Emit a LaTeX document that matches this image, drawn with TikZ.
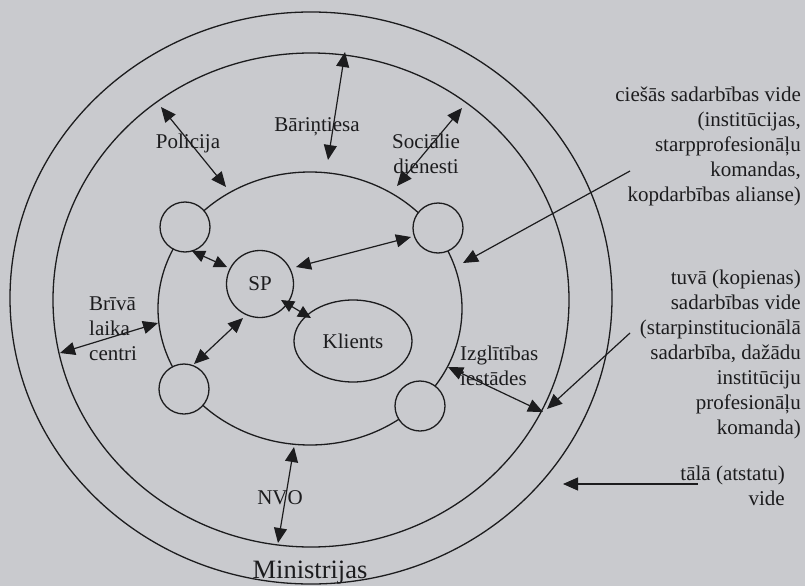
\documentclass[tikz,border=0pt]{standalone}
\usepackage{fontspec}
\setmainfont{Liberation Serif}
\usetikzlibrary{arrows.meta,shapes.geometric}
\definecolor{paper}{RGB}{201,202,206}
\definecolor{ink}{RGB}{28,28,30}

\begin{document}
\begin{tikzpicture}[x=1pt,y=-1pt,
  ring/.style={draw=ink, line width=1.3pt, ellipse, inner sep=0pt, outer sep=0pt},
  hub/.style={draw=ink, line width=1.3pt, circle, fill=paper, minimum size=50pt, inner sep=0pt},
  lbl/.style={text=ink, font=\fontsize{21}{25}\selectfont, inner sep=0pt},
  link/.style={draw=ink, line width=1.2pt, {Triangle[length=15pt,width=13pt]}-{Triangle[length=15pt,width=13pt]}},
  shortlink/.style={draw=ink, line width=1.2pt, {Triangle[length=13pt,width=12pt]}-{Triangle[length=13pt,width=12pt]}},
  ptr/.style={draw=ink, line width=1.2pt, -{Triangle[length=15pt,width=13pt]}},
]
% page
\fill[paper] (0,0) rectangle (805,586);
\useasboundingbox (0,0) rectangle (805,586);

% three environment rings
\node[ring, minimum width=602pt, minimum height=572pt] (outer) at (311,298) {};
\node[ring, minimum width=516pt, minimum height=494pt] (middle) at (311,300) {};
\node[ring, minimum width=304pt, minimum height=273pt] (inner) at (310,308.5) {};

% partner institutions on the inner ring
\node[hub] (tl) at (185,227) {};
\node[hub] (tr) at (438,228) {};
\node[hub] (bl) at (184,389) {};
\node[hub] (br) at (420,406) {};

% social worker and client
\node[draw=ink, line width=1.3pt, circle, minimum size=67pt, inner sep=0pt, lbl] (sp) at (260,284) {SP};
\node[draw=ink, line width=1.3pt, ellipse, minimum width=118pt, minimum height=82pt, inner sep=0pt, lbl] (klients) at (353,341) {Klients};

% labels
\node[lbl] (policija) at (188,143) {Policija};
\node[lbl] (barintiesa) at (317,127) {Bāriņtiesa};
\node[lbl, align=center] (socdien) at (426,154) {Sociālie\\dienesti};
\node[lbl, align=left, anchor=west] (briva) at (89,329) {Brīvā\\laika\\centri};
\node[lbl, align=left, anchor=west] (izgl) at (460,366) {Izglītības\\iestādes};
\node[lbl] (nvo) at (280,498) {NVO};
\node[lbl, font=\fontsize{26.5}{30}\selectfont] (ministrijas) at (310,573) {Ministrijas};

\node[lbl, align=right, anchor=east] (closeenv) at (801,146.5)
  {ciešās sadarbības vide\\(institūcijas,\\starpprofesionāļu\\komandas,\\kopdarbības alianse)};
\node[lbl, align=right, anchor=east] (nearenv) at (801,354)
  {tuvā (kopienas)\\sadarbības vide\\(starpinstitucionālā\\sadarbība, dažādu\\institūciju\\profesionāļu\\komanda)};
\node[lbl, align=right, anchor=east] (farenv) at (785,486)
  {tālā (atstatu)\\vide};

% connector end points
\coordinate (polA) at (161,107);  \coordinate (polB) at (226,187);
\coordinate (barA) at (345,52);   \coordinate (barB) at (328,160);
\coordinate (socA) at (462,108);  \coordinate (socB) at (397,186);
\coordinate (tlA) at (192,251);   \coordinate (spTL) at (227,267);
\coordinate (spTR) at (296,267);  \coordinate (trA) at (411,237);
\coordinate (spBL) at (243,318);  \coordinate (blA) at (194,364);
\coordinate (spK) at (281,300);   \coordinate (kSP) at (311,318);
\coordinate (briA) at (60,353);   \coordinate (briB) at (158,323);
\coordinate (nvoA) at (294,447);  \coordinate (nvoB) at (278,543);
\coordinate (izgA) at (448,367);  \coordinate (izgB) at (543,412);
\coordinate (closeA) at (630,171); \coordinate (closeB) at (463,263);
\coordinate (nearA) at (630,333);  \coordinate (nearB) at (547,409);
\coordinate (farA) at (698,484);   \coordinate (farB) at (563,484);

% two-way links
\draw[link] (polA) -- (polB);
\draw[link] (barA) -- (barB);
\draw[link] (socA) -- (socB);
\draw[shortlink] (tlA) -- (spTL);
\draw[link] (spTR) -- (trA);
\draw[link] (spBL) -- (blA);
\draw[shortlink] (spK) -- (kSP);
\draw[link] (briA) -- (briB);
\draw[link] (nvoA) -- (nvoB);
\draw[link] (izgA) -- (izgB);

% pointers from the legend
\draw[ptr] (closeA) -- (closeB);
\draw[ptr] (nearA) -- (nearB);
\draw[ptr] (farA) -- (farB);
\end{tikzpicture}
\end{document}
